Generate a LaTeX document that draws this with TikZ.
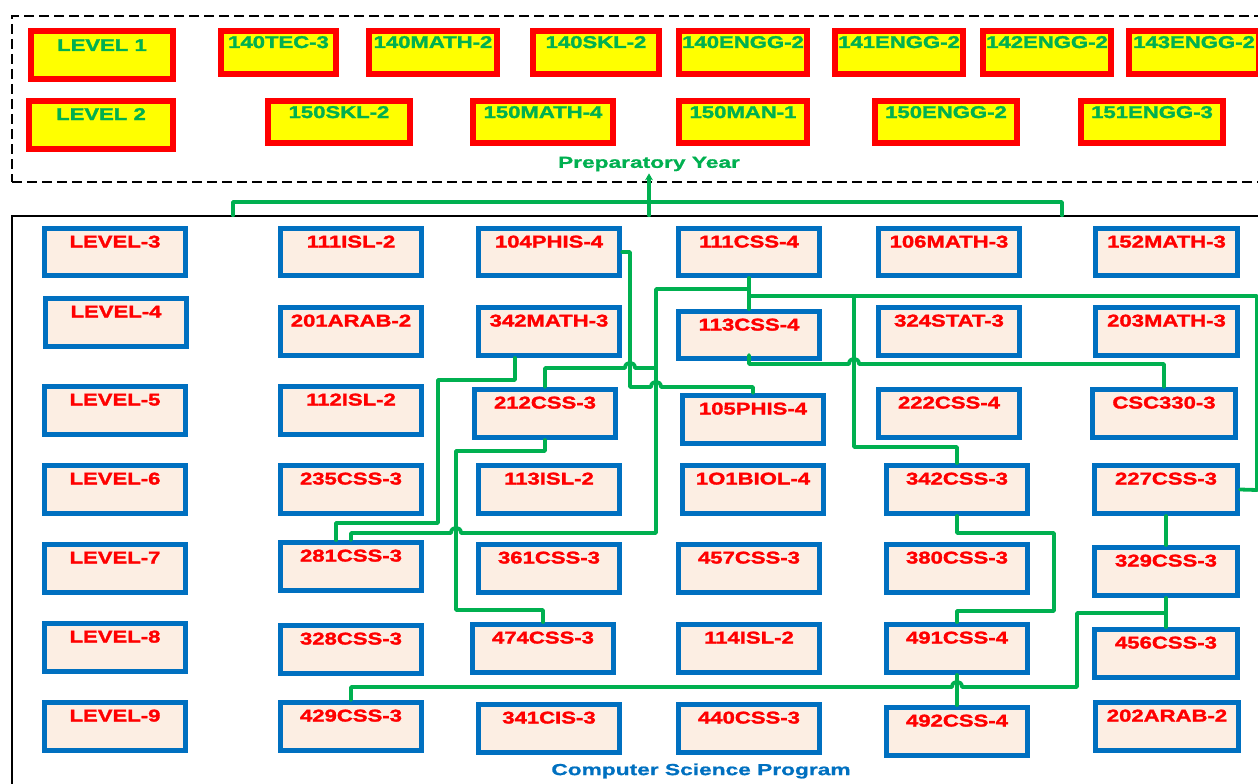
\documentclass[tikz,border=0pt]{standalone}
\usepackage{fontspec}
\setmainfont{Liberation Sans}
\newfontfamily\boxfont{Liberation Sans}[FakeStretch=1.3,FakeBold=1.8]
\newfontfamily\lblfont{Liberation Sans}[FakeStretch=1.42,FakeBold=1]
\usetikzlibrary{calc,arrows.meta}
\definecolor{csgreen}{RGB}{0,176,80}
\definecolor{csblue}{RGB}{0,112,192}
\definecolor{csred}{RGB}{255,0,0}
\definecolor{csyellow}{RGB}{255,255,0}
\definecolor{boxfill}{RGB}{252,238,227}
\tikzset{
  bluebox/.style={draw=csblue, fill=boxfill, inner sep=0pt, text=csred,
    font={\boxfont\bfseries\fontsize{17pt}{17pt}\selectfont}},
  yelbox/.style={draw=csred, fill=csyellow, inner sep=0pt, text=csgreen,
    font={\boxfont\bfseries\fontsize{17pt}{17pt}\selectfont}},
  lbl/.style={inner sep=2pt, font={\lblfont\bfseries\fontsize{16pt}{16pt}\selectfont}},
  conn/.style={draw=csgreen, line width=3.8pt, line cap=round, line join=round},
  prepbox/.style={draw=black, line width=2pt, dash pattern=on 10pt off 5pt, inner sep=0pt},
  csbox/.style={draw=black, line width=1.5pt, inner sep=0pt}
}
% #1 style #2 line width #3 name #4 x1 #5 y1 #6 x2 #7 y2 #8 text height #9 text
\newcommand{\mkbox}[9]{%
  \pgfmathsetmacro\cx{(#4+#6)/2}%
  \pgfmathsetmacro\cy{(#5+#7)/2}%
  \pgfmathsetmacro\cw{#6-#4-#2}%
  \pgfmathsetmacro\cd{#7-#5-#2-#8}%
  \node[#1, line width=#2pt, minimum width=\cw pt, text height=#8pt, text depth=\cd pt] (#3) at (\cx,\cy) {#9};}
\newcommand{\bbox}[6]{\mkbox{bluebox}{5}{#1}{#2}{#3}{#4}{#5}{19}{#6}}
\newcommand{\ybox}[7][17]{\mkbox{yelbox}{6}{#2}{#3}{#4}{#5}{#6}{#1}{#7}}
\begin{document}
\begin{tikzpicture}[x=1pt,y=-1pt]
\useasboundingbox (0,0) rectangle (1258,784);
\clip (0,0) rectangle (1258,784);
% frames
\node[prepbox, minimum width=1263pt, minimum height=166pt] (prep) at (643.5,99) {};
\node[csbox, minimum width=1268pt, minimum height=584pt] (csp) at (646,508) {};
\node[lbl, text=csgreen] (preplbl) at (649,164) {Preparatory Year};
\node[lbl, text=csblue] (cslbl) at (701,771) {Computer Science Program};
% preparatory year
\ybox[20]{ylev1}{28}{28}{176}{82}{LEVEL 1}
\ybox{y140tec}{218}{28}{339}{77}{140TEC-3}
\ybox{y140math}{366}{28}{500}{77}{140MATH-2}
\ybox{y140skl}{530}{28}{662}{77}{140SKL-2}
\ybox{y140engg}{676}{28}{810}{77}{140ENGG-2}
\ybox{y141engg}{832}{28}{966}{77}{141ENGG-2}
\ybox{y142engg}{980}{28}{1114}{77}{142ENGG-2}
\ybox{y143engg}{1126}{28}{1262}{77}{143ENGG-2}
\ybox[19]{ylev2}{26}{98}{176}{152}{LEVEL 2}
\ybox{y150skl}{265}{98}{413}{146}{150SKL-2}
\ybox{y150math}{470}{98}{616}{146}{150MATH-4}
\ybox{y150man}{676}{98}{810}{146}{150MAN-1}
\ybox{y150engg}{872}{98}{1020}{146}{150ENGG-2}
\ybox{y151engg}{1078}{98}{1226}{146}{151ENGG-3}
% column 1
\bbox{lv3}{42}{226}{188}{278}{LEVEL-3}
\bbox{lv4}{43}{296}{189}{349}{LEVEL-4}
\bbox{lv5}{42}{384}{188}{437}{LEVEL-5}
\bbox{lv6}{42}{463}{188}{516}{LEVEL-6}
\bbox{lv7}{42}{542}{188}{595}{LEVEL-7}
\bbox{lv8}{42}{621}{188}{674}{LEVEL-8}
\bbox{lv9}{42}{700}{188}{753}{LEVEL-9}
% column 2
\bbox{isl111}{278}{226}{424}{278}{111ISL-2}
\bbox{arab201}{278}{305}{424}{358}{201ARAB-2}
\bbox{isl112}{278}{384}{424}{437}{112ISL-2}
\bbox{css235}{278}{463}{424}{516}{235CSS-3}
\bbox{css281}{278}{540}{424}{593}{281CSS-3}
\bbox{css328}{278}{623}{424}{676}{328CSS-3}
\bbox{css429}{278}{700}{424}{753}{429CSS-3}
% column 3
\bbox{phis104}{476}{226}{622}{278}{104PHIS-4}
\bbox{math342}{476}{305}{622}{358}{342MATH-3}
\bbox{css212}{472}{387}{618}{440}{212CSS-3}
\bbox{isl113}{476}{463}{622}{516}{113ISL-2}
\bbox{css361}{476}{542}{622}{595}{361CSS-3}
\bbox{css474}{470}{622}{616}{675}{474CSS-3}
\bbox{cis341}{476}{702}{622}{755}{341CIS-3}
% column 4
\bbox{css111}{676}{226}{822}{278}{111CSS-4}
\bbox{css113}{676}{309}{822}{361}{113CSS-4}
\bbox{phis105}{680}{393}{826}{446}{105PHIS-4}
\bbox{biol101}{680}{463}{826}{516}{1O1BIOL-4}
\bbox{css457}{676}{542}{822}{595}{457CSS-3}
\bbox{isl114}{676}{622}{822}{675}{114ISL-2}
\bbox{css440}{676}{702}{822}{755}{440CSS-3}
% column 5
\bbox{math106}{876}{226}{1022}{278}{106MATH-3}
\bbox{stat324}{876}{305}{1022}{358}{324STAT-3}
\bbox{css222}{876}{387}{1022}{440}{222CSS-4}
\bbox{css342}{884}{463}{1030}{516}{342CSS-3}
\bbox{css380}{884}{542}{1030}{595}{380CSS-3}
\bbox{css491}{884}{622}{1030}{675}{491CSS-4}
\bbox{css492}{884}{705}{1030}{758}{492CSS-4}
% column 6
\bbox{math152}{1093}{226}{1240}{278}{152MATH-3}
\bbox{math203}{1093}{305}{1240}{358}{203MATH-3}
\bbox{csc330}{1090}{387}{1238}{440}{CSC330-3}
\bbox{css227}{1092}{463}{1240}{516}{227CSS-3}
\bbox{css329}{1092}{545}{1240}{598}{329CSS-3}
\bbox{css456}{1092}{627}{1240}{680}{456CSS-3}
\bbox{arab202}{1093}{700}{1241}{753}{202ARAB-2}
% junctions
\coordinate (ja) at (749,289);
\coordinate (jb) at (749,296);
\coordinate (jc) at (656,368);
\coordinate (jd) at (854,296);
\coordinate (je) at (1166,613);
% top connector
\draw[conn] (csp.north -| 233,0) |- (1062,202) -- (csp.north -| 1062,0);
\draw[conn, -{Stealth[length=7pt,width=8pt]}] (csp.north -| preplbl.south) -- (preplbl.south);
% connectors
\draw[conn] (css111.south) -- (css113.north);
\draw[conn] (ja) -- (656,289) -- (656,533) -- (461,533) .. controls (461,526) and (451,526) .. (451,533) -- (css281.north |- 0,533) -- (css281.north);
\draw[conn] (jc) -- (635,368) .. controls (635,361) and (625,361) .. (625,368) -- (css212.north |- 0,368) -- (css212.north);
\draw[conn] (phis104.east) -- (630,252) -- (630,387) -- (651,387) .. controls (651,380) and (661,380) .. (661,387) -- (phis105.north |- 0,387) -- (phis105.north);
\draw[conn] ($(math342.south)+(-34,0)$) -- (515,380) -- (438,380) -- (438,523) -- (336,523) -- ($(css281.north)+(-15,0)$);
\draw[conn] (css212.south) -- (545,451) -- (456,451) -- (456,610) -- (css474.north |- 0,610) -- (css474.north);
\draw[conn] ($(css113.south)+(0,-6)$) -- (749,364) -- (849,364) .. controls (849,357) and (859,357) .. (859,364) -- (csc330.north |- 0,364) -- (csc330.north);
\draw[conn] (jb) -- (1257,296) -- (1257,490) -- (css227.east);
\draw[conn] (jd) -- (854,447) -- (957,447) -- (css342.north);
\draw[conn] (css342.south) -- (957,533) -- (1054,533) -- (1054,611) -- (957,611) -- (css491.north);
\draw[conn] (css227.south) -- (css329.north);
\draw[conn] (css329.south) -- (css456.north);
\draw[conn] (je) -- (1077,613) -- (1077,687) -- (962,687) .. controls (962,680) and (952,680) .. (952,687) -- (css429.north |- 0,687) -- (css429.north);
\draw[conn] (css492.north) -- (css491.south);
\end{tikzpicture}
\end{document}
